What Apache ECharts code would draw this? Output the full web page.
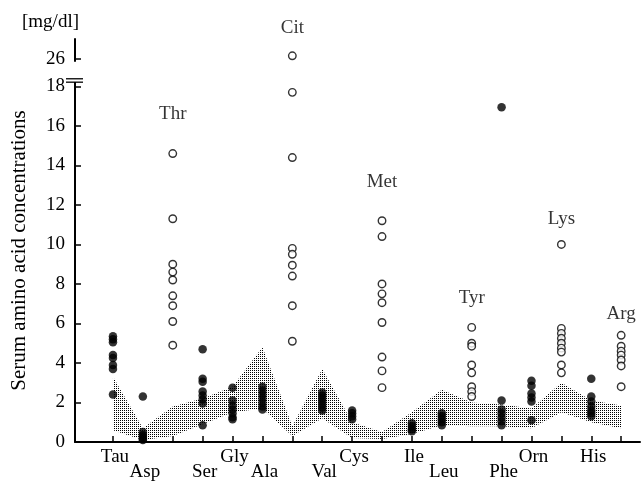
<!DOCTYPE html>
<html><head><meta charset="utf-8">
<script src="https://cdn.jsdelivr.net/npm/echarts@6.0.0/dist/echarts.min.js"></script>
<style>html,body{margin:0;padding:0;background:#fff}#c{width:642px;height:482px}</style>
</head><body><div id="c"></div>
<script>
// ---- data ----
const categories = ['Tau','Asp','Thr','Ser','Gly','Ala','Cit','Val','Cys','Met','Ile','Leu','Tyr','Phe','Orn','Lys','His','Arg'];
// position of the category label under the axis: 'u' upper row, 'd' lower row, '' = labelled above its points
const labelRows = ['u','d','','d','u','d','','d','u','','u','d','','d','u','','u',''];
// normal range (shaded band)
const normalLow  = [0.6,0.1,0.3,0.9,1.5,1.7,0.3,1.2,0.2,0.15,0.4,0.85,0.8,0.8,0.7,1.5,1.0,0.7];
const normalHigh = [3.3,0.7,1.8,2.2,2.8,4.8,0.8,3.7,1.0,0.5,1.5,2.65,2.0,1.9,1.7,3.0,2.1,1.85];
// patient values, filled circles
const filledValues = [
  [5.35,5.2,5.05,4.4,4.25,3.9,3.7,2.4],
  [2.3,0.5,0.35,0.25,0.15,0.1],
  [],
  [4.7,3.2,3.05,2.55,2.35,2.15,1.95,0.85],
  [2.75,2.1,1.85,1.65,1.45,1.25,1.15],
  [2.8,2.6,2.4,2.2,2.0,1.8,1.65],
  [],
  [2.5,2.35,2.2,2.05,1.9,1.75,1.6],
  [1.6,1.45,1.3,1.15],
  [],
  [0.95,0.8,0.65,0.55],
  [1.45,1.3,1.15,1.0,0.85],
  [],
  [16.95,2.1,1.65,1.45,1.25,1.05,0.85],
  [3.1,2.85,2.45,2.25,2.05,1.1],
  [],
  [3.2,2.3,2.05,1.8,1.6,1.45,1.3],
  []
];
// patient values, open circles
const openValues = [
  [],[],
  [14.6,11.3,9.0,8.6,8.2,7.4,6.9,6.1,4.9],
  [],[],[],
  [26.15,17.7,14.4,9.8,9.5,8.95,8.4,6.9,5.1],
  [],[],
  [11.2,10.4,8.0,7.5,7.05,6.05,4.3,3.6,2.75],
  [],[],
  [5.8,5.0,4.85,3.9,3.5,2.8,2.55,2.3],
  [],[],
  [10.0,5.75,5.5,5.25,5.0,4.75,4.55,3.9,3.5],
  [],
  [5.4,4.85,4.6,4.4,4.15,3.85,2.8]
];
// labels drawn above the open-circle columns
const topLabelIndex = [2,6,9,12,15,17];
const topLabelValue = [16.6,27,13.16,7.31,11.3,6.5];
const yTicks = [0,2,4,6,8,10,12,14,16,18,26];

// ---- build ----
const FONT = 'Liberation Serif';
const pat = document.createElement('canvas');
pat.width = 2; pat.height = 2;
const pc = pat.getContext('2d');
pc.fillStyle = '#000';
pc.fillRect(0,0,1,1);
const bandPattern = {image: pat, repeat: 'repeat'};

const filledData = [];
filledValues.forEach((arr,i)=>arr.forEach(v=>filledData.push([i,v])));
const openData = [];
openValues.forEach((arr,i)=>arr.forEach(v=>openData.push([i,v])));
const bandData = normalLow.map((v,i)=>[i, v, normalHigh[i]]);
const topLabelData = topLabelIndex.map((ci,k)=>({
  value:[ci, topLabelValue[k]], name: categories[ci],
  label: ci === 6 ? {offset:[0,-11]} : {}
}));

function renderBand(params, api){
  if (params.dataIndex !== 0) return null;
  const upper = normalHigh.map((v,i)=>api.coord([i, v]));
  const lower = normalLow.map((v,i)=>api.coord([i, v])).reverse();
  return {type:'polygon', shape:{points: upper.concat(lower)},
    style:{fill: bandPattern, stroke: null}};
}

const chart = echarts.init(document.getElementById('c'), null, {renderer:'canvas'});
chart.setOption({
  animation:false,
  backgroundColor:'#fff',
  title:{text:'[mg/dl]', left:22, top:13, padding:0,
    textStyle:{fontFamily:FONT, fontSize:19, fontWeight:'normal', color:'#000'}},
  grid:{left:75, right:2, top:39, bottom:38, containLabel:false},
  xAxis:{
    type:'value', min:-1.27, max:17.63,
    splitLine:{show:false},
    axisLine:{show:true, onZero:false, lineStyle:{color:'#000', width:2}},
    axisTick:{show:true, inside:true, length:6, customValues: categories.map((c,i)=>i),
      lineStyle:{color:'#000', width:1.5}},
    axisLabel:{
      customValues: categories.map((c,i)=>i),
      margin:6,
      formatter:(v)=>{const i=Math.round(v); const r=labelRows[i]; return r?('{'+r+'|'+categories[i]+'}'):'';},
      rich:{
        u:{fontFamily:FONT, fontSize:19, color:'#000', padding:[0,0,0,4]},
        d:{fontFamily:FONT, fontSize:19, color:'#000', padding:[15,0,0,4]}
      }
    }
  },
  yAxis:{
    type:'value', min:0, max:27, interval:2,
    breaks:[{start:18.3, end:25.9, gap:'4.9%'}],
    breakArea:{show:false},
    name:'Serum amino acid concentrations',
    nameLocation:'middle', nameGap:45, nameRotate:90,
    nameTextStyle:{fontFamily:FONT, fontSize:21, color:'#000', padding:[0,20,0,0]},
    splitLine:{show:false},
    axisLine:{show:true, onZero:false, lineStyle:{color:'#000', width:2}},
    axisTick:{show:true, inside:true, length:6, customValues:yTicks, lineStyle:{color:'#000', width:1.5}},
    axisLabel:{customValues:yTicks, fontFamily:FONT, fontSize:19, color:'#000', margin:10,
      formatter:(v)=>String(v)}
  },
  series:[
    {type:'custom', data:bandData, renderItem:renderBand, silent:true, z:1,
      encode:{x:0, y:[1,2]}},
    {type:'scatter', data:filledData, symbol:'circle', symbolSize:8.5,
      itemStyle:{color:'#000'}, z:3},
    {type:'scatter', data:openData, symbol:'circle', symbolSize:7.5,
      itemStyle:{color:'#fff', borderColor:'#000', borderWidth:1.4}, z:3},
    {type:'scatter', data:topLabelData, symbolSize:1, itemStyle:{color:'rgba(0,0,0,0)'},
      label:{show:true, position:'inside', formatter:'{b}', fontFamily:FONT, fontSize:19, color:'#000'}, z:4}
  ]
});

// break marker "=" on the y axis
const bp = chart.convertToPixel({gridIndex:0}, [-1.27, 18.3]);
chart.setOption({graphic:[
  {type:'rect', shape:{x:bp[0]-9, y:bp[1]-1.5, width:18, height:3}, style:{fill:'#fff'}, z:100},
  {type:'line', shape:{x1:bp[0]-9, y1:bp[1]-1.7, x2:bp[0]+8, y2:bp[1]-1.7}, style:{stroke:'#000', lineWidth:1.3}, z:101},
  {type:'line', shape:{x1:bp[0]-9, y1:bp[1]+1.7, x2:bp[0]+8, y2:bp[1]+1.7}, style:{stroke:'#000', lineWidth:1.3}, z:101}
]});
</script></body></html>
